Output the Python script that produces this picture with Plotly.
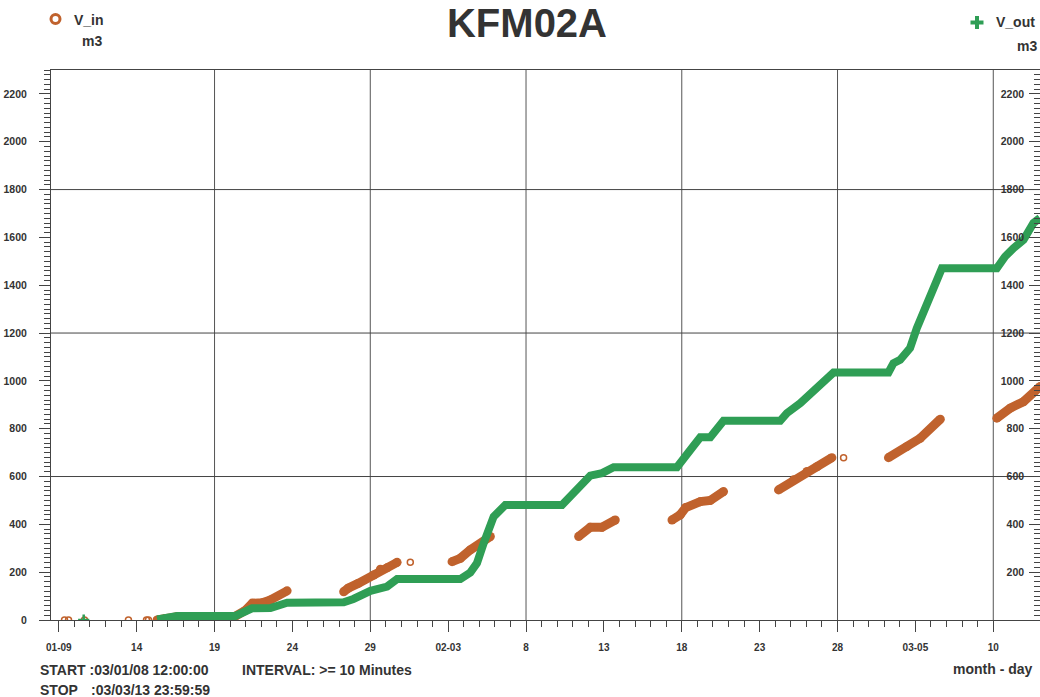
import plotly.graph_objects as go

# ---------------- data ----------------
# V_in: dense 10-minute samples drawn as bands; None separates the gaps
vin_dates = [
    "2003-01-15 07:40", "2003-01-15 20:00", "2003-01-16 14:24", "2003-01-20 08:10",
    "2003-01-20 23:30", "2003-01-21 10:20", "2003-01-22 01:40", "2003-01-22 14:10",
    "2003-01-23 15:50", None,
    "2003-01-27 07:00", "2003-01-27 14:00", "2003-01-28 05:20", "2003-01-29 05:15",
    "2003-01-29 15:35", "2003-01-30 01:55", "2003-01-30 17:20", None,
    "2003-02-03 06:00", "2003-02-03 18:45", "2003-02-04 10:05", "2003-02-05 17:00", None,
    "2003-02-11 09:05", "2003-02-12 03:05", "2003-02-12 21:05", "2003-02-13 17:30", None,
    "2003-02-17 08:55", "2003-02-17 21:35", "2003-02-18 06:00", "2003-02-19 04:30",
    "2003-02-19 19:55", "2003-02-20 16:20", None,
    "2003-02-24 05:05", "2003-02-25 04:20", "2003-02-26 00:55", "2003-02-26 16:20",
    "2003-02-27 15:20", None,
    "2003-03-03 06:30", "2003-03-04 10:50", "2003-03-05 07:25", "2003-03-06 14:25", None,
    "2003-03-10 05:30", "2003-03-11 02:10", "2003-03-11 22:35", "2003-03-13 00:00",
]
vin_values = [
    0, 6, 14, 16,
    40, 70, 72, 84,
    122, None,
    118, 133, 153, 188,
    212, 218, 241, None,
    244, 258, 293, 349, None,
    349, 388, 388, 418, None,
    418, 440, 470, 495,
    500, 537, None,
    544, 586, 621, 641,
    679, None,
    679, 725, 760, 840, None,
    844, 886, 913, 976,
]
# V_in: isolated samples
vin_single_dates = ["2003-01-09 08:50", "2003-01-09 15:00", "2003-01-10 15:35",
                    "2003-01-13 11:20", "2003-01-14 15:10", "2003-01-14 18:10",
                    "2003-01-15 06:30", "2003-01-31 13:40", "2003-02-28 09:20"]
vin_single_values = [0, 0, 0, 0, 0, 0, 0, 241, 679]

# V_out: dense samples drawn as a band
vout_dates = [
    "2003-01-15 07:40", "2003-01-16 14:24", "2003-01-20 08:10", "2003-01-21 09:50",
    "2003-01-22 14:10", "2003-01-23 15:50", "2003-01-27 07:00", "2003-01-27 22:00",
    "2003-01-29 00:15", "2003-01-29 15:35", "2003-01-30 01:55", "2003-01-30 17:20",
    "2003-02-03 18:45", "2003-02-04 10:05", "2003-02-04 20:25", "2003-02-05 06:40",
    "2003-02-05 22:05", "2003-02-06 16:05", "2003-02-10 07:25", "2003-02-12 03:05",
    "2003-02-12 21:05", "2003-02-13 15:00", "2003-02-17 16:35", "2003-02-18 13:10",
    "2003-02-19 04:30", "2003-02-19 19:55", "2003-02-20 16:20", "2003-02-24 07:40",
    "2003-02-24 18:00", "2003-02-25 14:35", "2003-02-26 11:05", "2003-02-26 21:20",
    "2003-02-27 17:50", "2003-03-03 06:30", "2003-03-03 14:10", "2003-03-04 00:30",
    "2003-03-04 15:50", "2003-03-05 02:10", "2003-03-05 17:45", "2003-03-06 16:50",
    "2003-03-10 05:30", "2003-03-10 18:15", "2003-03-11 07:10", "2003-03-11 22:35",
    "2003-03-12 13:55", "2003-03-13 00:00",
]
vout_values = [
    2, 17, 17, 49,
    50, 72, 74, 88,
    122, 137, 140, 171,
    171, 198, 238, 321,
    432, 481, 481, 604,
    614, 639, 639, 711,
    764, 764, 833, 833,
    865, 907, 962, 978,
    1035, 1035, 1074, 1088,
    1137, 1220, 1325, 1471,
    1471, 1520, 1555, 1590,
    1660, 1681,
]
vout_single_dates = ["2003-01-10 14:24"]
vout_single_values = [0]

tick_dates = ["2003-01-09", "2003-01-14", "2003-01-19", "2003-01-24", "2003-01-29",
              "2003-02-03", "2003-02-08", "2003-02-13", "2003-02-18", "2003-02-23",
              "2003-02-28", "2003-03-05", "2003-03-10"]
tick_labels = ["01-09", "14", "19", "24", "29", "02-03", "8", "13", "18", "23",
               "28", "03-05", "10"]
grid_dates = ["2003-01-19", "2003-01-29", "2003-02-08", "2003-02-18",
              "2003-02-28", "2003-03-10"]
grid_values = [600, 1200, 1800]

# ---------------- styling / layout ----------------
W, H = 1040, 697
L, R, T, B = 51, 0, 70, 77
PW, PH = W - L - R, H - T - B
FONT = "Liberation Sans, Arial, sans-serif"
TXT = "#333333"
AX = "#444444"
ORANGE = "#C0622D"
GREEN = "#2F9E55"


def px(x):
    return (x - L) / PW


def py(y):
    return (H - B - y) / PH


fig = go.Figure()

fig.add_trace(go.Scatter(
    x=vin_dates, y=vin_values, mode="lines+markers", name="V_in",
    line=dict(color=ORANGE, width=9), connectgaps=False,
    marker=dict(color=ORANGE, size=9, line=dict(width=0)),
    showlegend=False, hoverinfo="skip"))
fig.add_trace(go.Scatter(
    x=vin_single_dates, y=vin_single_values, mode="markers", name="V_in",
    marker=dict(symbol="circle-open", color=ORANGE, size=6, line=dict(width=1.5)),
    showlegend=False, hoverinfo="skip"))
fig.add_trace(go.Scatter(
    x=vout_dates, y=vout_values, mode="lines", name="V_out", yaxis="y2",
    line=dict(color=GREEN, width=8), showlegend=False, hoverinfo="skip"))
fig.add_trace(go.Scatter(
    x=vout_single_dates, y=vout_single_values, mode="markers", name="V_out", yaxis="y2",
    marker=dict(symbol="cross-thin-open", color=GREEN, size=8, line=dict(width=2.5, color=GREEN)),
    showlegend=False, hoverinfo="skip"))

shapes = []
for d in grid_dates:
    shapes.append(dict(type="line", xref="x", yref="paper", x0=d, x1=d, y0=0, y1=1,
                       line=dict(color="#555555", width=1), layer="below"))
for v in grid_values:
    shapes.append(dict(type="line", xref="paper", yref="y", x0=0, x1=1, y0=v, y1=v,
                       line=dict(color="#444444", width=1), layer="below"))
# legend markers
shapes.append(dict(type="circle", xref="paper", yref="paper",
                   x0=px(51), x1=px(60), y0=py(23.5), y1=py(14.5),
                   line=dict(color=ORANGE, width=3), fillcolor="rgba(0,0,0,0)"))
shapes.append(dict(type="rect", xref="paper", yref="paper",
                   x0=px(970.5), x1=px(983.5), y0=py(24.5), y1=py(20.5),
                   line=dict(width=0), fillcolor=GREEN))
shapes.append(dict(type="rect", xref="paper", yref="paper",
                   x0=px(975), x1=px(979), y0=py(29), y1=py(16),
                   line=dict(width=0), fillcolor=GREEN))

def ann(text, x, y, xanchor="left", size=14):
    return dict(text=text, xref="paper", yref="paper", x=px(x), y=py(y),
                xanchor=xanchor, yanchor="middle", showarrow=False,
                font=dict(family=FONT, size=size, color=TXT, weight="bold"))

annotations = [
    ann("V_in", 72, 20.5),
    ann("m3", 104, 41, "right"),
    ann("V_out", 1037, 21.5, "right"),
    ann("m3", 1039, 45.5, "right"),
    ann("START :03/01/08 12:00:00", 38, 670),
    ann("INTERVAL: >= 10 Minutes", 240, 670),
    ann("STOP", 38, 689.5),
    ann(":03/03/13 23:59:59", 89, 689.5),
    ann("month - day", 1035, 669, "right"),
]

yaxis_common = dict(
    range=[0, 2300], tickmode="linear", tick0=0, dtick=200,
    showgrid=False, zeroline=False, showline=True, linecolor=AX, linewidth=1,
    tickcolor=AX, ticklen=11, tickwidth=1,
    tickfont=dict(family=FONT, size=10.5, color=TXT, weight="bold"),
    minor=dict(dtick=20, tick0=0, ticklen=6, tickcolor=AX, tickwidth=1, showgrid=False),
)

fig.update_layout(
    width=W, height=H, autosize=False,
    margin=dict(l=L, r=R, t=T, b=B, pad=0),
    paper_bgcolor="white", plot_bgcolor="white",
    title=dict(text="KFM02A", xref="container", yref="container",
               x=527 / W, y=1 - 23 / H, xanchor="center", yanchor="middle",
               font=dict(family=FONT, size=40, color=TXT, weight="bold")),
    xaxis=dict(
        type="date", range=["2003-01-08 12:00", "2003-03-13 00:00"],
        tickmode="array", tickvals=tick_dates, ticktext=tick_labels,
        ticks="outside", ticklen=11, tickwidth=1, tickcolor=AX,
        showgrid=False, zeroline=False, showline=True, linecolor=AX, linewidth=1,
        mirror=True, ticklabelstandoff=7,
        tickfont=dict(family=FONT, size=10, color=TXT, weight="bold"),
        minor=dict(dtick=86400000, tick0="2003-01-09", ticks="outside",
                   ticklen=6, tickcolor=AX, tickwidth=1, showgrid=False),
    ),
    yaxis=dict(**yaxis_common, ticks="outside", side="left", ticklabelstandoff=10),
    yaxis2=dict(**yaxis_common, ticks="inside", side="right", overlaying="y",
                anchor="x", ticklabelposition="inside", ticklabelstandoff=4),
    shapes=shapes,
    annotations=annotations,
)
fig.update_layout(yaxis=dict(minor_ticks="outside"), yaxis2=dict(minor_ticks="inside"))

fig.write_html(
    "out.html",
    config={"displayModeBar": False, "staticPlot": True},
    post_script="document.body.style.margin='0';document.body.style.overflow='hidden';",
)
